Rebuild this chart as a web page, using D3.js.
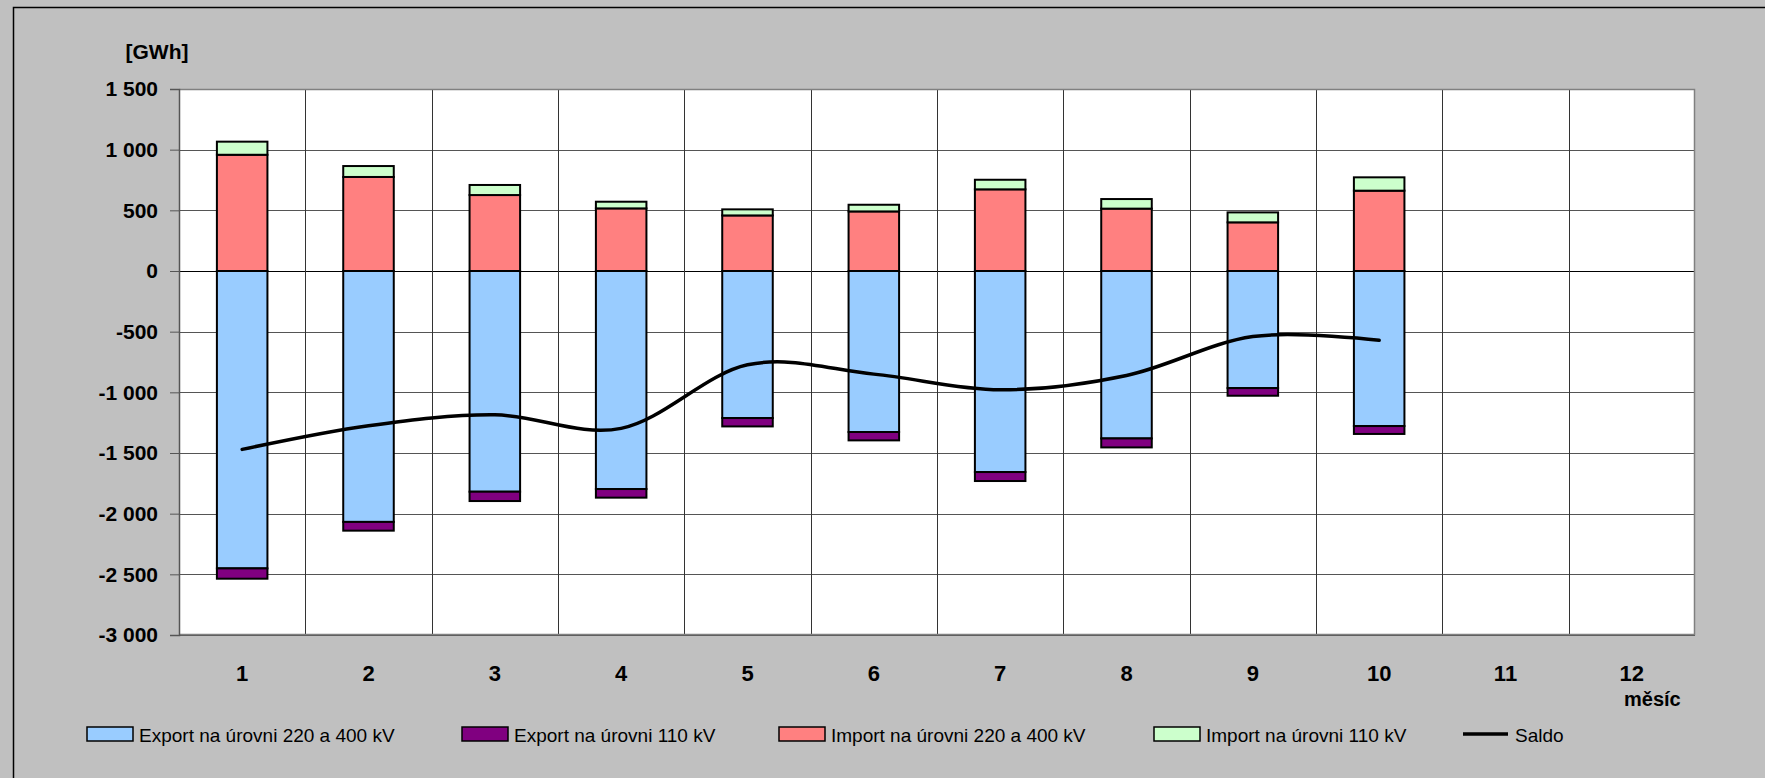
<!DOCTYPE html>
<html>
<head>
<meta charset="utf-8">
<script src="https://cdn.jsdelivr.net/npm/d3@7"></script>
<style>
  body { margin: 0; background: #c0c0c0; }
  svg { display: block; font-family: "Liberation Sans", Arial, sans-serif; }
</style>
</head>
<body>
<svg width="1765" height="778"></svg>
<script>
// data (GWh)
var months = ["1", "2", "3", "4", "5", "6", "7", "8", "9", "10", "11", "12"];
var export400 = [-2451, -2068, -1819, -1797, -1212, -1327, -1657, -1380, -965, -1278];
var export110 = [-85, -72, -77, -71, -69, -69, -74, -74, -63, -65];
var import400 = [958, 775, 626, 516, 458, 491, 673, 514, 401, 662];
var import110 = [108, 90, 83, 55, 50, 55, 79, 79, 82, 110];
var saldo = [-1470, -1275, -1185, -1297, -773, -850, -979, -861, -540, -571];
var yTicks = [-3000, -2500, -2000, -1500, -1000, -500, 0, 500, 1000, 1500];

var keys = ["export400", "export110", "import400", "import110"];
var names = {
  export400: "Export na úrovni 220 a 400 kV",
  export110: "Export na úrovni 110 kV",
  import400: "Import na úrovni 220 a 400 kV",
  import110: "Import na úrovni 110 kV"
};
var colors = {
  export400: "#99ccff",
  export110: "#800080",
  import400: "#ff8080",
  import110: "#ccffcc"
};

var rows = export400.map(function(d, i) {
  return { month: months[i], export400: d, export110: export110[i],
           import400: import400[i], import110: import110[i] };
});

var svg = d3.select("svg");
var margin = {top: 89, right: 70, bottom: 143, left: 179},
    width = +svg.attr("width") - margin.left - margin.right,
    height = +svg.attr("height") - margin.top - margin.bottom;

// outer frame
svg.append("rect")
    .attr("x", 13.5).attr("y", 7.5)
    .attr("width", 1800).attr("height", 800)
    .attr("fill", "#c0c0c0")
    .attr("stroke", "#000").attr("stroke-width", 1.5);

var g = svg.append("g")
    .attr("transform", "translate(" + margin.left + "," + margin.top + ")");

var x = d3.scaleBand()
    .domain(months)
    .range([0, width])
    .paddingInner(0.6)
    .paddingOuter(0.3);

var y = d3.scaleLinear()
    .domain([-3000, 1500])
    .range([height, 0]);

var loc = d3.formatLocale({decimal: ".", thousands: " ", grouping: [3], currency: ["", ""], minus: "-"});
var fmt = loc.format(",");

g.append("rect")
    .attr("width", width).attr("height", height)
    .attr("fill", "#fff");

// horizontal grid
g.append("g").selectAll("line")
    .data(yTicks)
  .enter().append("line")
    .attr("x1", 0).attr("x2", width)
    .attr("y1", function(d) { return Math.round(y(d)) + 0.5; })
    .attr("y2", function(d) { return Math.round(y(d)) + 0.5; })
    .attr("stroke", function(d) { return d === 0 ? "#000" : "#555"; })
    .attr("stroke-width", 1);

// vertical grid at category boundaries
var step = x.step();
g.append("g").selectAll("line")
    .data(d3.range(1, months.length))
  .enter().append("line")
    .attr("x1", function(i) { return Math.round(i * step) + 0.5; })
    .attr("x2", function(i) { return Math.round(i * step) + 0.5; })
    .attr("y1", 0).attr("y2", height)
    .attr("stroke", "#333");

// plot border
g.append("path")
    .attr("d", "M0.5,0.5H" + (width - 0.5) + "V" + (height - 0.5) + "H0.5")
    .attr("fill", "none")
    .attr("stroke", "#808080").attr("stroke-width", 1.5);

// stacked bars
var series = d3.stack()
    .keys(keys)
    .offset(d3.stackOffsetDiverging)(rows);

g.append("g").selectAll("g")
    .data(series)
  .enter().append("g")
    .attr("fill", function(d) { return colors[d.key]; })
  .selectAll("rect")
    .data(function(d) { return d; })
  .enter().append("rect")
    .attr("x", function(d) { return x(d.data.month); })
    .attr("y", function(d) { return y(Math.max(d[0], d[1])); })
    .attr("width", x.bandwidth())
    .attr("height", function(d) { return Math.abs(y(d[0]) - y(d[1])); })
    .attr("stroke", "#000")
    .attr("stroke-width", 2);

// saldo line
var line = d3.line()
    .curve(d3.curveCatmullRom.alpha(0))
    .x(function(d, i) { return x(months[i]) + x.bandwidth() / 2; })
    .y(function(d) { return y(d); });

g.append("path")
    .datum(saldo)
    .attr("d", line)
    .attr("fill", "none")
    .attr("stroke", "#000")
    .attr("stroke-width", 3.5)
    .attr("stroke-linecap", "round");

// y axis
var yAxis = g.append("g")
    .call(d3.axisLeft(y).tickValues(yTicks).tickSize(9).tickPadding(12).tickFormat(fmt));
yAxis.select(".domain").attr("stroke", "#555").attr("stroke-width", 1.5);
yAxis.selectAll(".tick line").attr("stroke", "#555");
yAxis.selectAll("text")
    .attr("font-size", 21).attr("font-weight", "bold")
    .attr("font-family", "'Liberation Sans', Arial, sans-serif")
    .attr("fill", "#000");

// x labels
g.append("g").selectAll("text")
    .data(months)
  .enter().append("text")
    .attr("x", function(d) { return x(d) + x.bandwidth() / 2; })
    .attr("y", height + 46)
    .attr("text-anchor", "middle")
    .attr("font-size", 22).attr("font-weight", "bold")
    .text(function(d) { return d; });

svg.append("text")
    .attr("x", 1624).attr("y", 706)
    .attr("font-size", 20).attr("font-weight", "bold")
    .text("měsíc");

svg.append("text")
    .attr("x", 157).attr("y", 59)
    .attr("text-anchor", "middle")
    .attr("font-size", 21).attr("font-weight", "bold")
    .text("[GWh]");

// legend
var legendX = [87, 462, 779, 1154];
var lg = svg.append("g").attr("transform", "translate(0,727)");
keys.forEach(function(k, i) {
  lg.append("rect")
      .attr("x", legendX[i]).attr("y", 0)
      .attr("width", 46).attr("height", 14)
      .attr("fill", colors[k])
      .attr("stroke", "#000").attr("stroke-width", 1.5);
  lg.append("text")
      .attr("x", legendX[i] + 52).attr("y", 15)
      .attr("font-size", 19)
      .text(names[k]);
});
lg.append("line")
    .attr("x1", 1463).attr("x2", 1508)
    .attr("y1", 7).attr("y2", 7)
    .attr("stroke", "#000").attr("stroke-width", 3.5);
lg.append("text")
    .attr("x", 1515).attr("y", 15)
    .attr("font-size", 19)
    .text("Saldo");
</script>
</body>
</html>
